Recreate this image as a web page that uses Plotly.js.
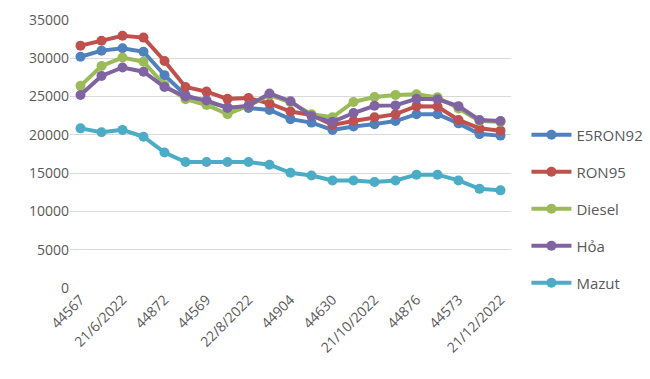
<!DOCTYPE html>
<html>
<head>
<meta charset="utf-8">
<script src="https://cdn.plot.ly/plotly-3.0.1.min.js"></script>
<style>html,body{margin:0;padding:0;background:#fff;}#chart{width:650px;height:379px;}</style>
</head>
<body>
<div id="chart"></div>
<script>
// Tick labels shown at every other point (as in the source chart)
var tickLabels = ["44567", "21/6/2022", "44872", "44569", "22/8/2022", "44904", "44630", "21/10/2022", "44876", "44573", "21/12/2022"];
var pointIndex = [0,1,2,3,4,5,6,7,8,9,10,11,12,13,14,15,16,17,18,19,20];
var tickIndex = [0,2,4,6,8,10,12,14,16,18,20];

var seriesNames = ["E5RON92", "RON95", "Diesel", "Hỏa", "Mazut"];
var e5ron92 = [30200, 31000, 31300, 30850, 27800, 25200, 24300, 23600, 23500, 23250, 22050, 21600, 20650, 21100, 21400, 21800, 22700, 22700, 21500, 20100, 19900];
var ron95   = [31650, 32300, 32950, 32700, 29650, 26250, 25650, 24700, 24800, 24100, 23050, 22600, 21300, 21800, 22300, 22700, 23750, 23700, 21950, 20850, 20550];
var diesel  = [26400, 29000, 30100, 29550, 26500, 24650, 23900, 22700, 23800, 25200, 24250, 22700, 22300, 24300, 24950, 25200, 25300, 24900, 23450, 21800, 21700];
var hoa     = [25200, 27700, 28800, 28250, 26250, 25000, 24500, 23500, 23800, 25400, 24400, 22450, 21700, 22850, 23800, 23850, 24700, 24650, 23750, 21950, 21800];
var mazut   = [20850, 20350, 20650, 19750, 17700, 16450, 16450, 16450, 16450, 16100, 15050, 14700, 14050, 14050, 13850, 14050, 14800, 14800, 14050, 12950, 12750];

var allSeries = [e5ron92, ron95, diesel, hoa, mazut];
var colors = ["#4F81BD", "#C0504D", "#9BBB59", "#8064A2", "#4BACC6"];

var traces = allSeries.map(function(vals, i){
  return {
    type: "scatter", mode: "lines+markers",
    x: pointIndex, y: vals, name: seriesNames[i],
    legendgroup: "g" + i,
    line: {color: colors[i], width: 4},
    marker: {color: colors[i], size: 10}
  };
});

var tickFont = {family: "Open Sans, sans-serif", size: 14, color: "#595959"};
var layout = {
  width: 650, height: 379,
  margin: {l: 70, r: 139, t: 20, b: 91, autoexpand: false},
  paper_bgcolor: "#fff", plot_bgcolor: "#fff",
  showlegend: true,
  legend: {x: 1.035, xanchor: "left", y: 0.295, yanchor: "middle",
           font: {family: "Open Sans, sans-serif", size: 15, color: "#595959"},
           tracegroupgap: 14.5, itemwidth: 40},
  xaxis: {range: [-0.5, 20.5], tickmode: "array", tickvals: tickIndex, ticktext: tickLabels,
          tickangle: -45, showgrid: false, zeroline: false, showline: false, ticks: "",
          tickfont: tickFont, fixedrange: true, automargin: false},
  yaxis: {range: [0, 35000], dtick: 5000, showgrid: true, gridcolor: "#d9d9d9", gridwidth: 1,
          zeroline: false, showline: false, ticks: "", tickfont: tickFont, tickformat: "d",
          ticklabelstandoff: 0, fixedrange: true, automargin: false}
};
Plotly.newPlot("chart", traces, layout, {displayModeBar: false, staticPlot: true});
</script>
</body>
</html>
